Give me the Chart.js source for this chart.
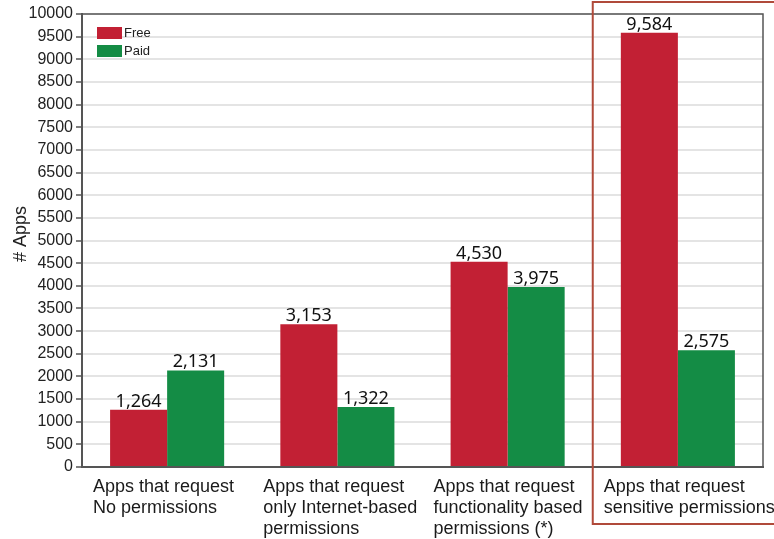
<!DOCTYPE html>
<html>
<head>
<meta charset="utf-8">
<script src="https://cdn.jsdelivr.net/npm/chart.js@4"></script>
<style>
	html, body { margin: 0; padding: 0; background: #fff; }
	#wrap { width: 774px; height: 539px; }
</style>
</head>
<body>
<div id="wrap"><canvas id="chart" width="774" height="539"></canvas></div>
<script>
	// ── Data ────────────────────────────────────────────────────────────────
	var categories = [
		['Apps that request', 'No permissions'],
		['Apps that request', 'only Internet-based', 'permissions'],
		['Apps that request', 'functionality based', 'permissions (*)'],
		['Apps that request', 'sensitive permissions']
	];
	var freeApps = [1264, 3153, 4530, 9584];
	var paidApps = [2131, 1322, 3975, 2575];
	var seriesNames = ['Free', 'Paid'];
	var yTitle = '# Apps';

	var RED   = '#c22034';
	var GREEN = '#148c45';
	var AXIS  = '#555555';

	function fmt(n) { return n.toLocaleString('en-US'); }

	// Value labels above every bar.
	var valueLabels = {
		id: 'valueLabels',
		afterDatasetsDraw: function (chart) {
			var ctx = chart.ctx;
			ctx.save();
			ctx.font = '18px "Noto Sans"';
			ctx.fillStyle = '#111';
			ctx.textAlign = 'center';
			ctx.textBaseline = 'alphabetic';
			chart.data.datasets.forEach(function (ds, di) {
				chart.getDatasetMeta(di).data.forEach(function (bar, i) {
					ctx.fillText(fmt(ds.data[i]), bar.x, bar.y - 3);
				});
			});
			ctx.restore();
		}
	};

	// Frame, legend, axis title, left-aligned category labels and highlight box.
	var decorations = {
		id: 'decorations',
		afterDraw: function (chart) {
			var ctx = chart.ctx;
			var a = chart.chartArea;
			var x = chart.scales.x;
			var step = (a.right - a.left) / categories.length;

			ctx.save();
			// top / right frame
			ctx.strokeStyle = AXIS;
			ctx.lineWidth = 1.5;
			ctx.beginPath();
			ctx.moveTo(a.left, a.top);
			ctx.lineTo(a.right, a.top);
			ctx.lineTo(a.right, a.bottom);
			ctx.stroke();

			// legend
			ctx.font = '13px "Liberation Sans"';
			ctx.textBaseline = 'middle';
			ctx.textAlign = 'left';
			[RED, GREEN].forEach(function (c, i) {
				var y = a.top + 13 + i * 18;
				ctx.fillStyle = c;
				ctx.fillRect(a.left + 15, y, 25, 12);
				ctx.fillStyle = '#222';
				ctx.fillText(seriesNames[i], a.left + 42, y + 6);
			});

			// y axis title
			ctx.save();
			ctx.translate(21, 234);
			ctx.rotate(-Math.PI / 2);
			ctx.textAlign = 'center';
			ctx.font = '18px "Liberation Sans"';
			ctx.fillStyle = '#222';
			ctx.fillText(yTitle, 0, 0);
			ctx.restore();

			// category labels
			ctx.font = '18px "Liberation Sans"';
			ctx.fillStyle = '#1a1a1a';
			ctx.textBaseline = 'alphabetic';
			categories.forEach(function (lines, i) {
				var left = x.getPixelForValue(i) - step / 2;
				lines.forEach(function (t, j) {
					ctx.fillText(t, left + 11, a.bottom + 25 + j * 21);
				});
			});

			// highlight box round the last group
			var bl = x.getPixelForValue(categories.length - 1) - step / 2;
			ctx.strokeStyle = '#b04a3a';
			ctx.lineWidth = 2;
			ctx.strokeRect(bl, 2, 300, 522);
			ctx.restore();
		}
	};

	new Chart(document.getElementById('chart'), {
		type: 'bar',
		data: {
			labels: categories,
			datasets: [
				{ label: seriesNames[0], data: freeApps, backgroundColor: RED },
				{ label: seriesNames[1], data: paidApps, backgroundColor: GREEN }
			]
		},
		options: {
			responsive: false,
			animation: false,
			layout: { padding: { top: 14, right: 11, left: 0, bottom: 0 } },
			datasets: { bar: { barPercentage: 1, categoryPercentage: 0.67 } },
			plugins: { legend: { display: false }, tooltip: { enabled: false } },
			scales: {
				x: {
					afterFit: function (s) { s.height = 72; },
					ticks: { display: false },
					grid: { display: false },
					border: { color: AXIS, width: 2 }
				},
				y: {
					min: 0,
					max: 10000,
					afterFit: function (s) { s.width = 82; },
					ticks: {
						stepSize: 500,
						font: { size: 16, family: 'Liberation Sans' },
						color: '#222',
						padding: 3,
						callback: function (v) { return String(v); }
					},
					grid: { color: '#e4e4e4', lineWidth: 2, tickLength: 6, tickColor: AXIS, tickWidth: 1.5 },
					border: { color: AXIS, width: 2 }
				}
			}
		},
		plugins: [valueLabels, decorations]
	});
</script>
</body>
</html>
